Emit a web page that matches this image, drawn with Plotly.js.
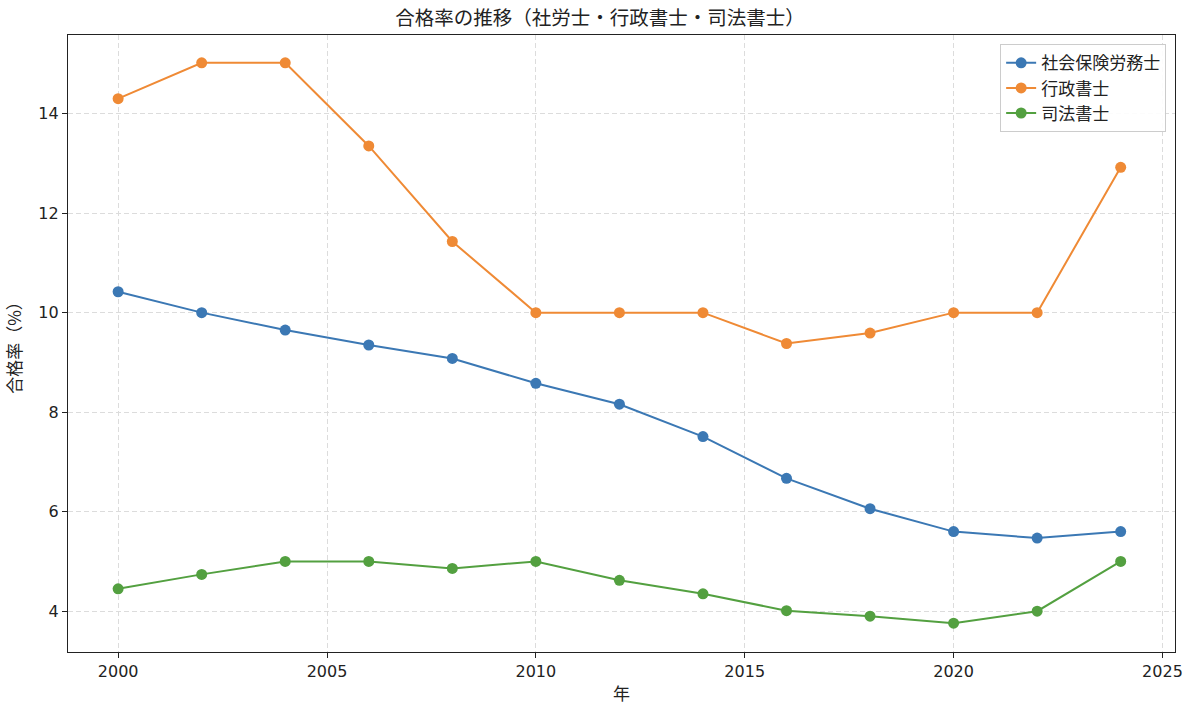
<!DOCTYPE html>
<html>
<head>
<meta charset="utf-8">
<script src="https://cdn.plot.ly/plotly-3.0.1.min.js"></script>
<style>
  body { margin: 0; background: #fff; }
  #chart { width: 1200px; height: 724px; }
</style>
</head>
<body>
<div id="chart"></div>
<script>
var years = [2000, 2002, 2004, 2006, 2008, 2010, 2012, 2014, 2016, 2018, 2020, 2022, 2024];

// 社会保険労務士
var sharoushi = [10.42, 10.0, 9.65, 9.35, 9.08, 8.58, 8.16, 7.51, 6.67, 6.06, 5.6, 5.47, 5.6];
// 行政書士
var gyousei = [14.3, 15.02, 15.02, 13.35, 11.43, 10.0, 10.0, 10.0, 9.38, 9.59, 10.0, 10.0, 12.92];
// 司法書士
var shihou = [4.45, 4.74, 5.0, 5.0, 4.86, 5.0, 4.62, 4.35, 4.01, 3.9, 3.76, 4.0, 5.0];

var seriesNames = ["社会保険労務士", "行政書士", "司法書士"];
var colors = ["#3b78b4", "#ef8a35", "#53a040"];

var font = "'Noto Sans CJK JP', 'Noto Sans', sans-serif";
var numFont = "'DejaVu Sans', 'Noto Sans', sans-serif";

function mk(name, vals, color) {
  return {
    type: "scatter",
    mode: "lines+markers",
    name: name,
    x: years,
    y: vals,
    line: { color: color, width: 2 },
    marker: { color: color, size: 11 }
  };
}

var data = [
  mk(seriesNames[0], sharoushi, colors[0]),
  mk(seriesNames[1], gyousei, colors[1]),
  mk(seriesNames[2], shihou, colors[2])
];

var axisStyle = {
  showline: true,
  linecolor: "#222",
  linewidth: 1.2,
  mirror: true,
  ticks: "outside",
  ticklen: 5,
  tickcolor: "#222",
  showgrid: true,
  gridcolor: "#dcdcdc",
  griddash: "5px,3px",
  gridwidth: 1,
  zeroline: false,
  tickfont: { family: numFont, size: 16, color: "#222" }
};

var layout = {
  width: 1200,
  height: 724,
  margin: { l: 68, r: 25, t: 35, b: 72 },
  paper_bgcolor: "#fff",
  plot_bgcolor: "#fff",
  font: { family: font, color: "#222" },
  title: {
    text: "合格率の推移（社労士・行政書士・司法書士）",
    font: { size: 19.5, color: "#222" },
    x: 0.5,
    xanchor: "center",
    y: 0.975,
    yanchor: "middle"
  },
  xaxis: Object.assign({}, axisStyle, {
    range: [1998.8, 2025.3],
    tickvals: [2000, 2005, 2010, 2015, 2020, 2025],
    title: { text: "年", font: { size: 17 }, standoff: 7 }
  }),
  yaxis: Object.assign({}, axisStyle, {
    range: [3.18, 15.58],
    tickvals: [4, 6, 8, 10, 12, 14],
    title: { text: "合格率（%）", font: { size: 17 }, standoff: 12 }
  }),
  legend: {
    x: 0.992,
    y: 0.985,
    xanchor: "right",
    yanchor: "top",
    bgcolor: "rgba(255,255,255,0.9)",
    bordercolor: "#cccccc",
    borderwidth: 1,
    font: { size: 17, color: "#222" }
  },
  showlegend: true
};

Plotly.newPlot("chart", data, layout, { displayModeBar: false });
</script>
</body>
</html>
